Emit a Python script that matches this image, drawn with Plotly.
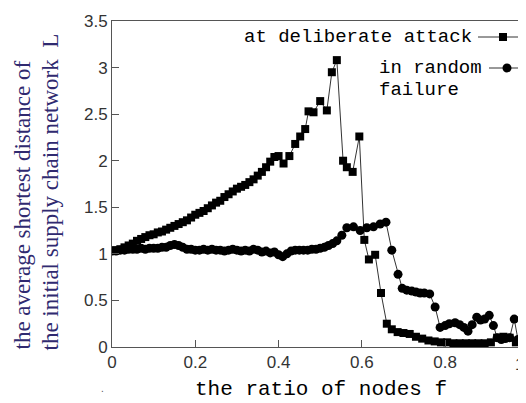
import plotly.graph_objects as go

# ---- data ----
attack_f = [0.00, 0.01, 0.02, 0.03, 0.04, 0.05, 0.06, 0.07, 0.08, 0.09,
            0.10, 0.11, 0.12, 0.13, 0.14, 0.15, 0.16, 0.17, 0.18, 0.19,
            0.20, 0.21, 0.22, 0.23, 0.24, 0.25, 0.26, 0.27, 0.28, 0.29,
            0.30, 0.31, 0.32, 0.33, 0.34, 0.35, 0.36, 0.37, 0.38, 0.39,
            0.40, 0.412, 0.426, 0.44, 0.452, 0.464, 0.472, 0.484, 0.50, 0.516,
            0.528, 0.54, 0.555, 0.564, 0.578, 0.594, 0.606, 0.617, 0.632, 0.646,
            0.66, 0.672, 0.686, 0.70, 0.715, 0.73, 0.745, 0.76, 0.775, 0.79,
            0.805, 0.82, 0.835, 0.85, 0.865, 0.88, 0.895, 0.91, 0.925, 0.94,
            0.955, 0.97, 0.985, 1.0]
attack_L = [1.03, 1.04, 1.05, 1.07, 1.09, 1.11, 1.14, 1.16, 1.18, 1.20,
            1.21, 1.23, 1.24, 1.26, 1.28, 1.30, 1.32, 1.34, 1.36, 1.39,
            1.42, 1.44, 1.46, 1.49, 1.52, 1.55, 1.57, 1.61, 1.64, 1.67,
            1.70, 1.72, 1.74, 1.77, 1.80, 1.84, 1.88, 1.93, 1.99, 2.04,
            2.05, 1.97, 2.05, 2.18, 2.26, 2.34, 2.53, 2.52, 2.64, 2.54,
            2.95, 3.08, 2.00, 1.93, 1.88, 2.26, 1.15, 0.94, 0.99, 0.58,
            0.25, 0.19, 0.16, 0.15, 0.14, 0.11, 0.09, 0.07, 0.06, 0.05,
            0.05, 0.04, 0.04, 0.04, 0.04, 0.04, 0.04, 0.05, 0.10, 0.11,
            0.10, 0.05, 0.04, 0.04]

random_f = [0.00, 0.01, 0.02, 0.03, 0.04, 0.05, 0.06, 0.07, 0.08, 0.09,
            0.10, 0.11, 0.12, 0.13, 0.14, 0.15, 0.16, 0.17, 0.18, 0.19,
            0.20, 0.21, 0.22, 0.23, 0.24, 0.25, 0.26, 0.27, 0.28, 0.29,
            0.30, 0.31, 0.32, 0.33, 0.34, 0.35, 0.36, 0.37, 0.38, 0.39,
            0.40, 0.41, 0.42, 0.43, 0.44, 0.45, 0.46, 0.47, 0.48, 0.49,
            0.50, 0.51, 0.52, 0.53, 0.54, 0.552, 0.564, 0.58, 0.596, 0.612,
            0.628, 0.644, 0.658, 0.672, 0.687, 0.697, 0.708, 0.72, 0.73, 0.74,
            0.75, 0.763, 0.776, 0.788, 0.80, 0.81, 0.824, 0.835, 0.845, 0.855,
            0.865, 0.876, 0.885, 0.895, 0.906, 0.916, 0.925, 0.935, 0.945, 0.955,
            0.966, 0.975, 0.985, 0.995]
random_L = [1.03, 1.03, 1.04, 1.04, 1.05, 1.05, 1.05, 1.06, 1.05, 1.06,
            1.06, 1.06, 1.07, 1.07, 1.09, 1.10, 1.09, 1.07, 1.05, 1.05,
            1.04, 1.04, 1.05, 1.04, 1.05, 1.04, 1.04, 1.03, 1.04, 1.05,
            1.04, 1.03, 1.04, 1.03, 1.05, 1.04, 1.02, 1.03, 1.01, 1.02,
            0.99, 0.97, 1.00, 1.03, 1.04, 1.04, 1.04, 1.04, 1.05, 1.05,
            1.06, 1.07, 1.09, 1.11, 1.14, 1.20, 1.28, 1.29, 1.25, 1.28,
            1.29, 1.32, 1.34, 1.04, 0.78, 0.63, 0.61, 0.60, 0.59, 0.58,
            0.58, 0.57, 0.43, 0.21, 0.23, 0.25, 0.26, 0.24, 0.21, 0.17,
            0.24, 0.32, 0.29, 0.30, 0.34, 0.23, 0.10, 0.08, 0.09, 0.10,
            0.30, 0.08, 0.05, 0.05]

x_ticks = [0, 0.2, 0.4, 0.6, 0.8]
x_tick_labels = ["0", "0.2", "0.4", "0.6", "0.8"]
y_ticks = [0, 0.5, 1, 1.5, 2, 2.5, 3, 3.5]
y_tick_labels = ["0", "0.5", "1", "1.5", "2", "2.5", "3", "3.5"]

# ---- layout geometry ----
# The page body has an 8px margin, so the figure is drawn from page (8, 8).
OFF = 8
W, H = 526 - OFF, 403 - OFF
L_M, R_M, T_M, B_M = 112 - OFF, 0, 21 - OFF, 56
PW, PH = W - L_M - R_M, H - T_M - B_M
X_MAX = 0.9943  # plot area is clipped on the right just before f = 1


def px(page_x):
    return (page_x - OFF - L_M) / PW


def py(page_y):
    return (H - B_M - (page_y - OFF)) / PH


fig = go.Figure()
fig.add_trace(go.Scatter(
    x=attack_f, y=attack_L, mode="lines+markers", name="at deliberate attack",
    line=dict(color="#333333", width=1),
    marker=dict(symbol="square", size=8, color="black"),
    showlegend=False))
fig.add_trace(go.Scatter(
    x=random_f, y=random_L, mode="lines+markers", name="in random failure",
    line=dict(color="#333333", width=1),
    marker=dict(symbol="circle", size=9, color="black"),
    showlegend=False))

tick_font = dict(family="Liberation Sans, Arial, sans-serif", size=17, color="#333333")
mono = "Liberation Mono, Courier New, monospace"

fig.update_layout(
    width=W, height=H,
    margin=dict(l=L_M, r=R_M, t=T_M, b=B_M, pad=0),
    paper_bgcolor="white", plot_bgcolor="white",
    xaxis=dict(range=[0, X_MAX], tickvals=x_ticks, ticktext=x_tick_labels,
               ticks="inside", ticklen=7, tickcolor="#555555", tickwidth=1,
               showline=True, linecolor="#555555", linewidth=1, mirror=True,
               showgrid=False, zeroline=False, tickfont=tick_font),
    yaxis=dict(range=[0, 3.5], tickvals=y_ticks, ticktext=y_tick_labels,
               ticks="inside", ticklen=7, tickcolor="#555555", tickwidth=1,
               showline=True, linecolor="#555555", linewidth=1, mirror=False,
               showgrid=False, zeroline=False, tickfont=tick_font),
)

ann = []
# "1" tick label at the right edge (the axis end is just past the picture)
ann.append(dict(xref="paper", yref="paper", x=px(525), y=py(365), text="1",
                showarrow=False, borderpad=0, font=tick_font,
                xanchor="right", yanchor="middle"))
# x-axis title
ann.append(dict(xref="paper", yref="paper", x=px(321), y=py(389),
                text="the ratio of nodes f", showarrow=False,
                font=dict(family=mono, size=21, color="black"),
                xanchor="center", yanchor="middle"))
# y-axis title (two lines, rotated)
ytitle_font = dict(family="Liberation Serif, Times New Roman, serif", size=23, color="#302a70")
ann.append(dict(xref="paper", yref="paper", x=px(22), y=py(352),
                text="the average shortest distance of", textangle=-90,
                showarrow=False, font=ytitle_font, xanchor="center", yanchor="bottom"))
ann.append(dict(xref="paper", yref="paper", x=px(50), y=py(353),
                text="the initial supply chain network\u00a0\u00a0L", textangle=-90,
                showarrow=False, font=ytitle_font, xanchor="center", yanchor="bottom"))
# legend texts
leg_font = dict(family=mono, size=19, color="black")
ann.append(dict(xref="paper", yref="paper", x=px(474), y=py(37),
                text="at deliberate attack", showarrow=False, font=leg_font,
                xanchor="right", yanchor="middle"))
ann.append(dict(xref="paper", yref="paper", x=px(377), y=py(68),
                text="in random", showarrow=False, font=leg_font,
                xanchor="left", yanchor="middle"))
ann.append(dict(xref="paper", yref="paper", x=px(377), y=py(90),
                text="failure", showarrow=False, font=leg_font,
                xanchor="left", yanchor="middle"))
# stray dot
ann.append(dict(xref="paper", yref="paper", x=px(102), y=py(388),
                text=".", showarrow=False,
                font=dict(family="Liberation Sans", size=10, color="#555555"),
                xanchor="center", yanchor="middle"))
fig.update_layout(annotations=ann)

# legend symbols (drawn to the right of legend texts)
shapes = []
shapes.append(dict(type="line", xref="paper", yref="paper",
                   x0=px(478), x1=px(521), y0=py(37), y1=py(37),
                   line=dict(color="#333333", width=1)))
shapes.append(dict(type="rect", xref="paper", yref="paper",
                   x0=px(499), x1=px(507), y0=py(33), y1=py(41),
                   fillcolor="black", line=dict(color="black", width=0)))
shapes.append(dict(type="line", xref="paper", yref="paper",
                   x0=px(489), x1=px(524), y0=py(68), y1=py(68),
                   line=dict(color="#333333", width=1)))
shapes.append(dict(type="circle", xref="paper", yref="paper",
                   x0=px(502.5), x1=px(511.5), y0=py(63.5), y1=py(72.5),
                   fillcolor="black", line=dict(color="black", width=0)))
fig.update_layout(shapes=shapes)

fig.write_html("out.html")
